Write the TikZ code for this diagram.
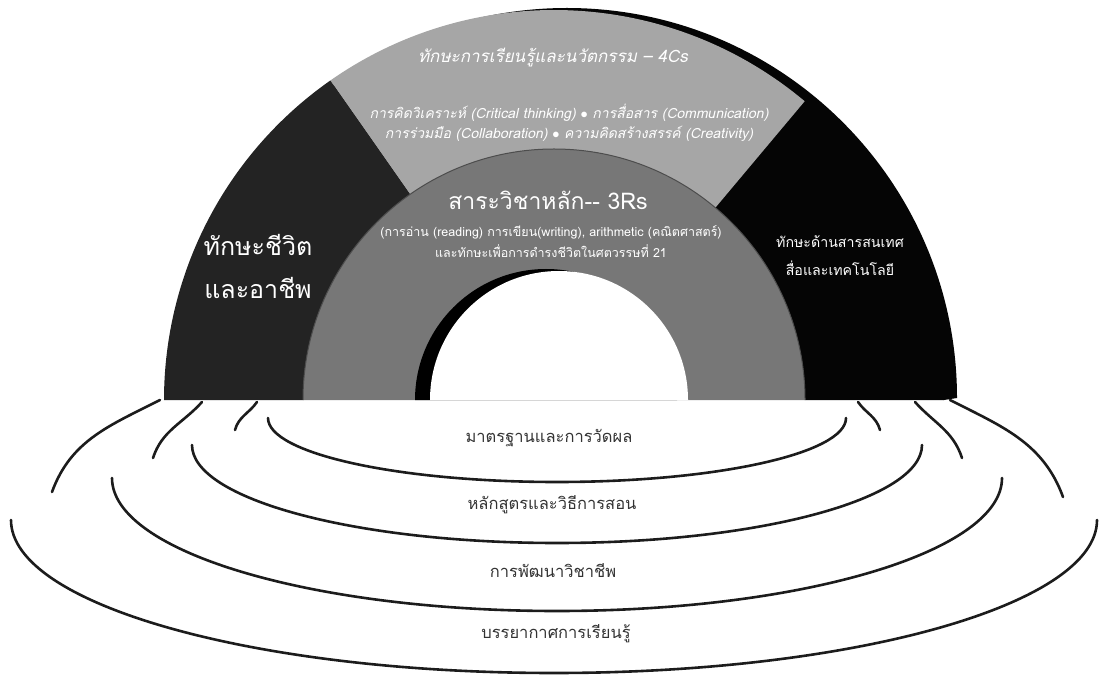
\documentclass[tikz,border=0pt]{standalone}
\usepackage{fontspec}
\newfontfamily\thaifont[Script=Thai]{Loma}
\usetikzlibrary{calc}

\definecolor{leftblk}{HTML}{232323}
\definecolor{rightblk}{HTML}{050505}
\definecolor{topgray}{HTML}{A6A6A6}
\definecolor{midgray}{HTML}{777777}
\definecolor{ringline}{HTML}{1C1C1C}
\definecolor{labelgray}{HTML}{333333}

% one slice of the dome between radius #3 and #4
\newcommand{\domepart}[4]{(\cx,\cy) ++(#1:#4) arc[start angle=#1, end angle=#2, radius=#4]
  -- ({\cx+#3*cos(#2)},{\cy+#3*sin(#2)}) arc[start angle=#2, end angle=#1, radius=#3] -- cycle}

\begin{document}
\begin{tikzpicture}[x=1pt, y=1pt,
  ring/.style={ringline, line width=2.6pt, line cap=round},
  intext/.style={white, align=center, inner sep=0pt},
  floortext/.style={labelgray, inner sep=0pt, font=\thaifont\fontsize{16.5}{18}\selectfont}]
\def\cx{554}
\def\cy{278}
\def\rout{390}
\def\rmid{251}
\useasboundingbox (0,0) rectangle (1099,678);

% rings on the floor
\draw[ring] (268,260) arc[start angle=180, end angle=360, x radius=289, y radius=64];
\draw[ring] (192,233) arc[start angle=180, end angle=360, x radius=365, y radius=98];
\draw[ring] (112,200) arc[start angle=180, end angle=360, x radius=445, y radius=133];
\draw[ring] (11,158) arc[start angle=180, end angle=360, x radius=543, y radius=153];
\draw[ring] (160,278) to[out=207, in=70] (52,186);
\draw[ring] (950,278) to[out=-27, in=110] (1063,181);
\draw[ring] (202,276) to[out=228, in=72] (153,220);
\draw[ring] (915,276) to[out=-48, in=108] (962,220);
\draw[ring] (257,276) to[out=235, in=75] (235,248);
\draw[ring] (858,276) to[out=-55, in=105] (880,248);

% dome
\fill[rightblk] (944,278) -- (957,280) arc[start angle=0, end angle=180, radius=\rout] -- cycle;
\fill[rightblk] \domepart{0}{50}{\rmid}{\rout};
\fill[topgray] \domepart{50}{125}{\rmid}{\rout};
\fill[leftblk] \domepart{125}{180}{\rmid}{\rout};
\fill[midgray] (\cx+\rmid,\cy) arc[start angle=0, end angle=180, radius=\rmid] -- cycle;
\draw[midgray!65!black, line width=1pt] (\cx+\rmid,\cy) arc[start angle=0, end angle=180, radius=\rmid];
\fill[black] (415,\cy) arc[start angle=180, end angle=0, radius=131] -- cycle;
\fill[white] (430,\cy) arc[start angle=180, end angle=0, radius=129] -- cycle;

\node[intext, font=\thaifont\itshape\fontsize{17}{20}\selectfont] (cs-title) at (553,620) {ทักษะการเรียนรู้และนวัตกรรม – 4Cs};
\node[intext, font=\thaifont\itshape\fontsize{14}{20}\selectfont] (cs-list) at (569,555)
  {การคิดวิเคราะห์ (Critical thinking) $\bullet$ การสื่อสาร (Communication)\\
   การร่วมมือ (Collaboration) $\bullet$ ความคิดสร้างสรรค์ (Creativity)};
\node[intext, font=\thaifont\fontsize{23}{26}\selectfont] (rs-title) at (548,478) {สาระวิชาหลัก-\kern0pt- 3Rs};
\node[intext, font=\thaifont\fontsize{12.5}{21}\selectfont] (rs-list) at (551,436)
  {(การอ่าน (reading) การเขียน(writing), arithmetic (คณิตศาสตร์)\\
   และทักษะเพื่อการดำรงชีวิตในศตวรรษที่ 21};
\node[intext, font=\thaifont\fontsize{25}{43}\selectfont] (life) at (258,412) {ทักษะชีวิต\\ และอาชีพ};
\node[intext, font=\thaifont\fontsize{14.2}{28}\selectfont] (media) at (840,422) {ทักษะด้านสารสนเทศ\\ สื่อและเทคโนโลยี};

\node[floortext] (standards) at (549,240) {มาตรฐานและการวัดผล};
\node[floortext] (curriculum) at (552,173) {หลักสูตรและวิธีการสอน};
\node[floortext] (profdev) at (553,107) {การพัฒนาวิชาชีพ};
\node[floortext] (climate) at (556,44) {บรรยากาศการเรียนรู้};
\end{tikzpicture}
\end{document}
